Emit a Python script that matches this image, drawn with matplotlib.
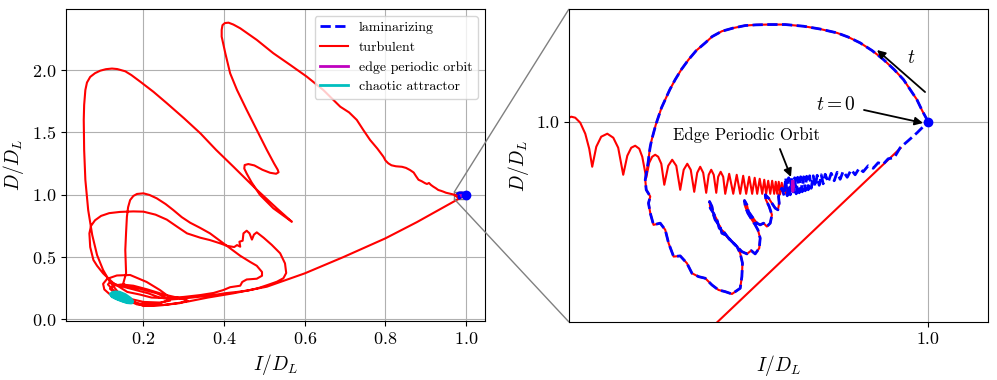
import numpy as np
import matplotlib
matplotlib.use('Agg')
import matplotlib.pyplot as plt
from matplotlib.ticker import FormatStrFormatter
from mpl_toolkits.axes_grid1.inset_locator import mark_inset

plt.rcParams['font.family'] = 'serif'
plt.rcParams['font.serif'] = ['cmr10']
plt.rcParams['mathtext.fontset'] = 'cm'
plt.rcParams['axes.formatter.use_mathtext'] = True

# ---- data -------------------------------------------------------------
# near the laminar state: offsets from (1, 1) in units of 1e-3
# common start of both trajectories (t = 0 -> big arc -> loops -> edge orbit)
shared_d = [(0, 0), (-0.50, 1.76), (-0.94, 3.52), (-1.50, 5.12), (-2.06, 6.72), (-2.84, 8.32),
            (-3.73, 9.92), (-4.68, 11.36), (-5.68, 12.59), (-6.68, 13.52), (-7.62, 14.19),
            (-9.02, 14.80), (-10.41, 15.25), (-11.94, 15.52), (-13.33, 15.52), (-14.36, 15.47),
            (-15.28, 15.36), (-16.28, 14.96), (-17.23, 14.45), (-18.04, 13.60), (-18.62, 12.59),
            (-19.37, 11.36), (-20.01, 9.92), (-20.62, 8.32), (-21.13, 6.72), (-21.58, 5.12),
            (-21.96, 3.52), (-22.27, 2.24), (-22.52, 0.85), (-22.75, -0.48), (-22.94, -1.81),
            (-23.09, -2.88), (-23.21, -3.95), (-23.29, -4.96), (-23.36, -6.08), (-23.42, -6.88),
            (-23.49, -7.68),
            (-23.63, -9.28), (-23.55, -10.88), (-23.21, -11.95), (-23.36, -13.01), (-23.21, -14.61),
            (-22.94, -16.48), (-22.38, -16.21), (-21.96, -17.28), (-21.68, -19.41), (-21.26, -21.55),
            (-20.71, -21.44), (-20.15, -22.61), (-19.73, -24.21), (-19.18, -24.75), (-18.62, -25.01),
            (-18.06, -26.08), (-17.51, -26.88), (-16.95, -27.15), (-16.39, -27.52), (-15.70, -26.61),
            (-15.56, -24.75), (-15.51, -22.61), (-15.70, -21.01), (-15.97, -19.95), (-16.39, -19.15),
            (-16.67, -18.61), (-17.09, -17.55), (-17.45, -17.01), (-17.64, -15.68), (-17.93, -14.61),
            (-18.20, -13.81), (-18.26, -12.75), (-18.06, -13.55), (-17.93, -14.88), (-17.79, -15.68),
            (-17.37, -16.75), (-17.23, -17.81), (-16.95, -18.08), (-16.53, -18.88), (-16.26, -19.41),
            (-15.84, -20.21), (-15.56, -20.75), (-15.14, -21.12), (-14.78, -20.59), (-14.45, -21.12),
            (-14.11, -20.21), (-14.03, -18.61), (-14.22, -17.28), (-14.45, -16.48), (-14.72, -15.68),
            (-15.06, -14.61), (-15.28, -13.55), (-15.34, -12.59), (-15.14, -13.28), (-15.01, -14.35),
            (-14.72, -15.15), (-14.30, -16.21), (-14.03, -16.48), (-13.75, -16.21), (-13.47, -16.75),
            (-13.19, -16.21), (-13.05, -14.88), (-13.28, -13.55), (-13.55, -12.48), (-13.61, -11.68),
            (-13.33, -12.21), (-13.05, -13.01), (-12.78, -13.81), (-12.55, -14.08), (-12.44, -13.01),
            (-12.50, -11.95), (-12.36, -11.15), (-12.22, -10.61)]

# laminarizing: from the edge orbit back to the laminar state
lam_tail_d = [(-12.02, -11.84), (-11.90, -8.96), (-11.77, -11.84), (-11.65, -8.96), (-11.52, -11.68),
              (-11.40, -8.96), (-11.27, -11.68), (-11.15, -8.96), (-11.02, -11.52), (-10.90, -8.88),
              (-10.77, -11.36), (-10.65, -8.80), (-10.52, -11.20), (-10.40, -8.80), (-10.27, -11.04),
              (-10.15, -8.72), (-10.02, -10.88), (-9.90, -8.64), (-9.77, -10.64), (-9.60, -8.64),
              (-9.44, -10.40), (-9.27, -8.56), (-9.10, -10.16), (-8.93, -8.48), (-8.77, -9.92),
              (-8.60, -8.40), (-8.35, -9.68), (-8.10, -8.24), (-7.85, -9.44), (-7.60, -8.08),
              (-7.35, -9.20), (-7.10, -7.92), (-6.76, -8.88), (-6.43, -7.68), (-6.10, -8.48),
              (-5.76, -7.44), (-5.43, -8.00), (-5.01, -7.04), (-4.59, -7.44), (-4.18, -6.56),
              (-3.76, -6.80), (-3.34, -5.92), (-2.84, -5.76), (-2.34, -4.16), (-1.67, -3.04),
              (-0.92, -1.76), (-0.42, -0.80), (0, 0)]

# turbulent: leaving the edge orbit with growing oscillations
osc_d = [(-11.69, -10.56), (-11.86, -11.52), (-11.98, -9.92), (-12.11, -11.52), (-12.23, -9.76),
         (-12.36, -11.52), (-12.48, -9.60), (-12.61, -11.52), (-12.73, -9.60), (-12.86, -11.52),
         (-13.03, -9.44), (-13.19, -11.52), (-13.36, -9.44), (-13.53, -11.52), (-13.69, -9.28),
         (-13.86, -11.52), (-14.07, -9.12), (-14.28, -11.52), (-14.49, -8.96), (-14.70, -11.52),
         (-14.95, -8.80), (-15.20, -11.52), (-15.45, -8.64), (-15.70, -11.52), (-15.99, -8.48),
         (-16.28, -11.52), (-16.62, -8.32), (-16.95, -11.52), (-17.12, -8.80), (-17.33, -8.00),
         (-17.54, -8.80), (-17.70, -11.36), (-17.91, -8.48), (-18.12, -7.68), (-18.33, -8.48),
         (-18.54, -11.36), (-18.79, -8.16), (-19.04, -7.20), (-19.29, -8.16), (-19.54, -11.20),
         (-19.83, -7.68), (-20.12, -6.72), (-20.42, -7.68), (-20.71, -10.88), (-21.04, -7.04),
         (-21.38, -6.08), (-21.71, -7.04), (-22.04, -10.08), (-22.29, -6.72), (-22.55, -5.60),
         (-22.80, -5.28), (-23.05, -5.60), (-23.30, -6.56), (-23.55, -8.96), (-23.88, -5.60),
         (-24.13, -4.32), (-24.47, -3.84), (-24.80, -4.16), (-25.13, -5.44), (-25.47, -8.48),
         (-25.89, -4.16), (-26.30, -2.56), (-26.80, -1.92), (-27.31, -2.40), (-27.72, -4.00),
         (-28.06, -7.20), (-28.31, -4.32), (-28.64, -1.92), (-29.06, -0.16), (-29.48, 0.64),
         (-29.81, 0.80), (-29.98, 0.64)]

# edge periodic orbit (offsets, 1e-3)
epo_d = [(-11.30, -9.55), (-11.24, -10.35), (-11.30, -11.15), (-11.36, -10.35), (-11.30, -9.55)]

# turbulent trajectory far from the laminar state (I/D_L, D/D_L)
turb_far = [
    (0.963, 1.006), (0.956, 1.011), (0.950, 1.016), (0.944, 1.024), (0.938, 1.031), (0.931, 1.038),
    (0.925, 1.052), (0.919, 1.064), (0.913, 1.078), (0.908, 1.094), (0.903, 1.086), (0.898, 1.093),
    (0.890, 1.108), (0.882, 1.120), (0.876, 1.148), (0.870, 1.178), (0.861, 1.198), (0.851, 1.215),
    (0.841, 1.224), (0.826, 1.228), (0.815, 1.236), (0.807, 1.252), (0.800, 1.275), (0.795, 1.305),
    (0.780, 1.370), (0.762, 1.439), (0.745, 1.520), (0.729, 1.600), (0.710, 1.660), (0.688, 1.706),
    (0.646, 1.840), (0.605, 1.947), (0.564, 2.041), (0.522, 2.135), (0.481, 2.242), (0.440, 2.335),
    (0.423, 2.365), (0.411, 2.380), (0.402, 2.377), (0.396, 2.360), (0.394, 2.322), (0.394, 2.268),
    (0.403, 2.135), (0.415, 1.974), (0.432, 1.840), (0.456, 1.680), (0.481, 1.520), (0.506, 1.359),
    (0.524, 1.250), (0.533, 1.200), (0.535, 1.180), (0.529, 1.168), (0.514, 1.176), (0.495, 1.200),
    (0.475, 1.235), (0.460, 1.246), (0.451, 1.238), (0.450, 1.210), (0.456, 1.170), (0.468, 1.100),
    (0.489, 0.998), (0.522, 0.891), (0.568, 0.783),
    (0.531, 0.890), (0.481, 1.040), (0.423, 1.225), (0.380, 1.360), (0.341, 1.493), (0.300, 1.615),
    (0.258, 1.734), (0.225, 1.825), (0.192, 1.907), (0.170, 1.960), (0.155, 1.990), (0.135, 2.008),
    (0.122, 2.012), (0.107, 2.007), (0.093, 1.995), (0.080, 1.975), (0.068, 1.945), (0.060, 1.900),
    (0.056, 1.840), (0.053, 1.720), (0.052, 1.600), (0.053, 1.360), (0.056, 1.119), (0.063, 0.877),
    (0.073, 0.677), (0.085, 0.516), (0.100, 0.396), (0.117, 0.300), (0.137, 0.219), (0.159, 0.155),
    (0.184, 0.120), (0.210, 0.110), (0.250, 0.115), (0.290, 0.130),
    (0.310, 0.150), (0.290, 0.170), (0.250, 0.200), (0.210, 0.240), (0.175, 0.270), (0.145, 0.280),
    (0.125, 0.270), (0.117, 0.245), (0.130, 0.210), (0.160, 0.170), (0.200, 0.140), (0.240, 0.135),
    (0.266, 0.150), (0.266, 0.175), (0.241, 0.235), (0.208, 0.300), (0.167, 0.356), (0.134, 0.352),
    (0.110, 0.325), (0.100, 0.285), (0.103, 0.240), (0.117, 0.200), (0.150, 0.160), (0.192, 0.125),
    (0.241, 0.128), (0.266, 0.160), (0.233, 0.209), (0.192, 0.245), (0.160, 0.260), (0.150, 0.289),
    (0.157, 0.370), (0.155, 0.556), (0.157, 0.700), (0.159, 0.823), (0.162, 0.900), (0.167, 0.957),
    (0.175, 0.990), (0.184, 1.006), (0.200, 1.011), (0.215, 0.998), (0.233, 0.971), (0.255, 0.925),
    (0.274, 0.877), (0.295, 0.820), (0.316, 0.775), (0.340, 0.735), (0.365, 0.690), (0.390, 0.630),
    (0.415, 0.570), (0.440, 0.510), (0.465, 0.460), (0.481, 0.430), (0.494, 0.380), (0.494, 0.350),
    (0.481, 0.326), (0.456, 0.320), (0.445, 0.300), (0.440, 0.270), (0.415, 0.258), (0.398, 0.235),
    (0.374, 0.212), (0.341, 0.195), (0.300, 0.180), (0.260, 0.170), (0.220, 0.175), (0.190, 0.200),
    (0.160, 0.220), (0.126, 0.289),
    (0.100, 0.369), (0.085, 0.430), (0.076, 0.476), (0.068, 0.580), (0.066, 0.690), (0.070, 0.750),
    (0.080, 0.795), (0.095, 0.830), (0.115, 0.852), (0.142, 0.862), (0.175, 0.866), (0.200, 0.864),
    (0.230, 0.840), (0.258, 0.800), (0.285, 0.740), (0.308, 0.690), (0.341, 0.655), (0.365, 0.636),
    (0.390, 0.610), (0.407, 0.590), (0.425, 0.580), (0.432, 0.596), (0.440, 0.583), (0.438, 0.623),
    (0.446, 0.631), (0.448, 0.690), (0.456, 0.711), (0.463, 0.690), (0.469, 0.640), (0.474, 0.680),
    (0.481, 0.698), (0.498, 0.655), (0.518, 0.598), (0.539, 0.530), (0.551, 0.449), (0.554, 0.372),
    (0.547, 0.330), (0.531, 0.302), (0.509, 0.277), (0.484, 0.250), (0.460, 0.232), (0.432, 0.220),
    (0.403, 0.210), (0.378, 0.197), (0.341, 0.182), (0.300, 0.168), (0.270, 0.160),
    (0.240, 0.175), (0.212, 0.209), (0.170, 0.245), (0.140, 0.270), (0.117, 0.300), (0.112, 0.280),
    (0.125, 0.235), (0.150, 0.190), (0.175, 0.140),
    (0.200, 0.107), (0.250, 0.115), (0.307, 0.141), (0.360, 0.175), (0.423, 0.209), (0.506, 0.262),
    (0.600, 0.369), (0.696, 0.500), (0.800, 0.650), (0.878, 0.780), (0.952, 0.913), (0.9824, 0.968),
    (0.9977, 0.9958)]

# chaotic attractor
attractor = [(0.124, 0.200), (0.130, 0.210), (0.140, 0.207), (0.153, 0.190), (0.166, 0.160),
             (0.170, 0.142), (0.160, 0.145), (0.146, 0.160), (0.132, 0.178), (0.124, 0.192),
             (0.128, 0.203), (0.138, 0.202), (0.151, 0.183), (0.163, 0.156), (0.156, 0.152),
             (0.141, 0.170), (0.128, 0.190), (0.124, 0.200)]

laminar = (1.0, 1.0)


def near(d):
    d = np.array(d) * 1e-3
    return d + np.array(laminar)


shared = near(shared_d)
lam = np.vstack([shared, near(lam_tail_d)])
turb = np.vstack([shared, near(osc_d), np.array(turb_far)])
epo = near(epo_d)
att = np.array(attractor)

# ---- figure -----------------------------------------------------------
fig = plt.figure(figsize=(9.97, 3.8), dpi=100)
ax1 = fig.add_axes([0.0662, 0.1553, 0.4203, 0.8211])
ax2 = fig.add_axes([0.5707, 0.1526, 0.4203, 0.8237])

for ax in (ax1, ax2):
    ax.plot(turb[:, 0], turb[:, 1], color='r', lw=1.5, zorder=2, label='turbulent')
    ax.plot(lam[:, 0], lam[:, 1], color='b', lw=2, ls='--', zorder=3, label='laminarizing')
    ax.plot(epo[:, 0], epo[:, 1], color='m', lw=2, zorder=4, label='edge periodic orbit')
    ax.plot(att[:, 0], att[:, 1], color='c', lw=4, zorder=4, label='chaotic attractor')
    ax.plot(*laminar, 'o', color='b', ms=6, zorder=5)
    ax.grid(True)
    ax.tick_params(labelsize=13)
    ax.set_xlabel('$I/D_L$', fontsize=14)
    ax.set_ylabel('$D/D_L$', fontsize=14)

ax1.set_xlim(0.008, 1.047)
ax1.set_ylim(-0.013, 2.49)
ax1.set_xticks([0.2, 0.4, 0.6, 0.8, 1.0])
ax1.set_yticks([0.0, 0.5, 1.0, 1.5, 2.0])
h, l = ax1.get_legend_handles_labels()
order = [1, 0, 2, 3]
leg = ax1.legend([h[i] for i in order], [l[i] for i in order], loc='upper right', fontsize=10)
leg.get_lines()[3].set_linewidth(2)

ax2.set_xlim(0.97, 1.005)
ax2.set_ylim(0.968, 1.018)
ax2.set_xticks([1.0])
ax2.set_yticks([1.0])
ax2.xaxis.set_major_formatter(FormatStrFormatter('%.1f'))
ax2.yaxis.set_major_formatter(FormatStrFormatter('%.1f'))

mark_inset(ax1, ax2, loc1=2, loc2=3, fc='none', ec='0.5', lw=1)

arrow = dict(arrowstyle='-|>', color='k', lw=1.3, mutation_scale=12, shrinkA=0, shrinkB=0)
ax2.text(0.98478, 0.99788, 'Edge Periodic Orbit', fontsize=12, ha='center', va='center')
ax2.annotate('', xy=(0.98854, 0.99117), xytext=(0.98762, 0.99564), arrowprops=arrow)
ax2.text(0.9923, 1.00267, '$t=0$', fontsize=14, ha='center', va='center')
ax2.annotate('', xy=(0.99957, 0.99979), xytext=(0.99464, 1.00187), arrowprops=arrow)
ax2.annotate('', xy=(0.99573, 1.01145), xytext=(0.99974, 1.00474), arrowprops=arrow)
ax2.text(0.99857, 1.01017, '$t$', fontsize=14, ha='center', va='center')

fig.savefig('out.png', dpi=100)
